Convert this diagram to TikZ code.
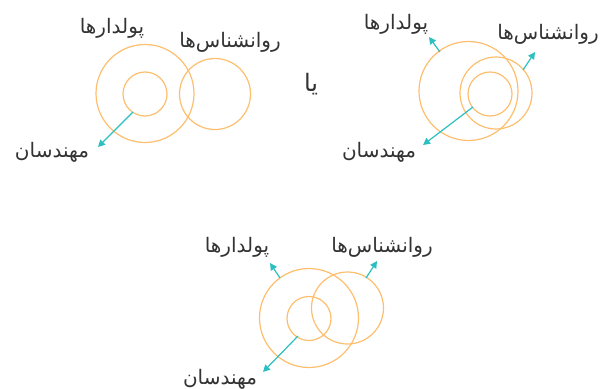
\documentclass[tikz,border=0pt]{standalone}
\usepackage{fontspec}
\newfontfamily\arabicfont[Script=Arabic]{DejaVu Sans}
\TeXXeTstate=1
\usetikzlibrary{arrows.meta}
\definecolor{circ}{HTML}{FDBE6E}
\definecolor{arr}{HTML}{2BBFBF}
\definecolor{txt}{HTML}{333333}
\tikzset{
  ring/.style={circle, draw=circ, line width=1.2pt, inner sep=0pt},
  ptr/.style={draw=arr, line width=1.2pt, -{Triangle[length=7pt,width=7pt]}},
  lbl/.style={text=txt, font=\arabicfont\fontsize{20}{24}\selectfont, inner sep=0pt}
}
\begin{document}
\begin{tikzpicture}[x=1pt,y=-1pt]
\useasboundingbox (0,0) rectangle (612,388);
% diagram 1
\node[ring, minimum size=98pt] (aBig) at (145,93.5) {};
\node[ring, minimum size=44pt] (aSmall) at (145,94) {};
\node[ring, minimum size=71pt] (aRight) at (215,94) {};
\node[lbl] (aP) at (112,28) {\beginR پولدارها\endR};
\node[lbl] (aR) at (230,42) {\beginR روانشناس‌ها\endR};
\node[lbl] (aM) at (52,152) {\beginR مهندسان\endR};
\coordinate (aS) at (133,112);
\coordinate (aE) at (98,147);
\draw[ptr] (aS) -- (aE);
% or
\node[lbl, font=\arabicfont\fontsize{24}{28}\selectfont] (ya) at (311,84) {\beginR یا\endR};
% diagram 2
\node[ring, minimum size=99pt] (bBig) at (468.5,91) {};
\node[ring, minimum size=72pt] (bMid) at (496,93) {};
\node[ring, minimum size=44pt] (bSmall) at (490,94) {};
\node[lbl] (bP) at (396,24) {\beginR پولدارها\endR};
\node[lbl] (bR) at (548,34) {\beginR روانشناس‌ها\endR};
\node[lbl] (bM) at (379,152) {\beginR مهندسان\endR};
\coordinate (b1S) at (440,52);
\coordinate (b1E) at (429,37);
\coordinate (b2S) at (523,70);
\coordinate (b2E) at (535,52);
\coordinate (b3S) at (473,107);
\coordinate (b3E) at (423,145);
\draw[ptr] (b1S) -- (b1E);
\draw[ptr] (b2S) -- (b2E);
\draw[ptr] (b3S) -- (b3E);
% diagram 3
\node[ring, minimum size=99pt] (cBig) at (309,318) {};
\node[ring, minimum size=72pt] (cRight) at (347.5,308) {};
\node[ring, minimum size=44pt] (cSmall) at (309,318.5) {};
\node[lbl] (cP) at (237,247) {\beginR پولدارها\endR};
\node[lbl] (cR) at (382,247) {\beginR روانشناس‌ها\endR};
\node[lbl] (cM) at (220,379) {\beginR مهندسان\endR};
\coordinate (c1S) at (280,278);
\coordinate (c1E) at (270,263);
\coordinate (c2S) at (366,278);
\coordinate (c2E) at (377,261);
\coordinate (c3S) at (298,336);
\coordinate (c3E) at (263,372);
\draw[ptr] (c1S) -- (c1E);
\draw[ptr] (c2S) -- (c2E);
\draw[ptr] (c3S) -- (c3E);
\end{tikzpicture}
\end{document}
